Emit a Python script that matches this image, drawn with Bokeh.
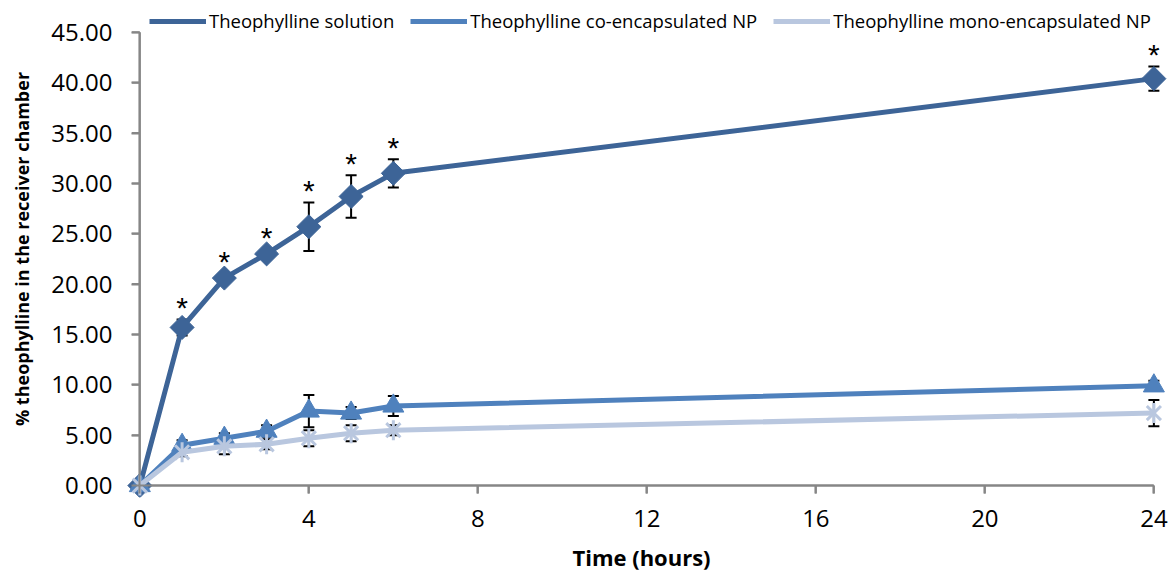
import math
from bokeh.plotting import figure
from bokeh.models import (ColumnDataSource, Whisker, TeeHead, Legend, LegendItem,
                          NumeralTickFormatter, FixedTicker, Range1d, LinearAxis)
from bokeh.embed import file_html
from bokeh.resources import INLINE

time_h = [0, 1, 2, 3, 4, 5, 6, 24]
solution = [0.0, 15.7, 20.6, 23.0, 25.7, 28.7, 31.0, 40.4]
solution_err = [0.0, 0.8, 0.5, 0.4, 2.4, 2.1, 1.4, 1.2]
co_np = [0.0, 4.0, 4.7, 5.4, 7.4, 7.2, 7.9, 9.9]
co_err = [0.0, 0.5, 0.5, 0.6, 1.6, 0.6, 1.0, 0.5]
mono_np = [0.0, 3.3, 3.9, 4.1, 4.7, 5.2, 5.5, 7.2]
mono_err = [0.0, 0.4, 0.8, 0.5, 0.8, 0.8, 0.5, 1.3]
signif = [False, True, True, True, True, True, True, True]
x_ticks = [0, 4, 8, 12, 16, 20, 24]
y_ticks = [0, 5, 10, 15, 20, 25, 30, 35, 40, 45]

labels = ["Theophylline solution", "Theophylline co-encapsulated NP",
          "Theophylline mono-encapsulated NP"]
colors = ["#3D6497", "#4F81BD", "#B9C7DF"]

FONT = "Open Sans"
AXIS_GRAY = "#868686"
X_MIN, X_MAX = -0.6, 24.346
Y_MIN, Y_MAX = -1.184, 48.158
PX_W, PX_H = 1054, 500  # frame size in pixels

p = figure(width=1168, height=574, output_backend="svg", toolbar_location=None,
           x_range=Range1d(X_MIN, X_MAX), y_range=Range1d(Y_MIN, Y_MAX),
           x_axis_location=None, y_axis_location=None,
           min_border_left=114, min_border_right=0, min_border_top=0,
           min_border_bottom=74)
p.outline_line_color = None
for g in p.xgrid + p.ygrid:
    g.visible = False

# label-only axes in the side panels
def label_axis(ticks, standoff):
    ax = LinearAxis(ticker=FixedTicker(ticks=ticks))
    ax.axis_line_color = None
    ax.major_tick_line_color = None
    ax.minor_tick_line_color = None
    ax.major_tick_out = 0
    ax.major_tick_in = 0
    ax.major_label_standoff = standoff
    ax.major_label_text_font = FONT
    ax.major_label_text_font_size = "24px"
    ax.major_label_text_color = "#000000"
    ax.axis_label_text_font = FONT
    ax.axis_label_text_font_style = "bold"
    ax.axis_label_text_color = "#000000"
    return ax

xlab = label_axis(x_ticks, 12)
xlab.axis_label = "Time (hours)"
xlab.axis_label_text_font_size = "22px"
xlab.axis_label_standoff = 12
p.add_layout(xlab, "below")

ylab = label_axis(y_ticks, 2)
ylab.formatter = NumeralTickFormatter(format="0.00")
ylab.axis_label = "% theophylline in the receiver chamber"
ylab.axis_label_text_font_size = "18px"
ylab.axis_label_standoff = 14
p.add_layout(ylab, "left")

# axis lines with outward ticks, pinned at the data origin
def line_axis(ticks, bounds):
    ax = LinearAxis(ticker=FixedTicker(ticks=ticks), fixed_location=0, bounds=bounds)
    ax.axis_line_color = AXIS_GRAY
    ax.axis_line_width = 2
    ax.major_tick_line_color = AXIS_GRAY
    ax.major_tick_line_width = 2
    ax.major_tick_out = 0
    ax.major_tick_in = -8
    ax.minor_tick_line_color = None
    ax.major_label_text_font_size = "0px"
    ax.major_label_standoff = 0
    ax.major_label_overrides = {t: "" for t in ticks}
    return ax

p.add_layout(line_axis(x_ticks, (0, 24)), "below")
p.add_layout(line_axis(y_ticks, (0, 45)), "left")

# same axis lines and ticks as glyphs (8 px long ticks)
tick_dx = 8 * (X_MAX - X_MIN) / PX_W
tick_dy = 8 * (Y_MAX - Y_MIN) / PX_H
p.segment(x0=[x_ticks[0], 0], y0=[0, y_ticks[0]], x1=[x_ticks[-1], 0],
          y1=[0, y_ticks[-1]], line_color=AXIS_GRAY, line_width=2)
p.segment(x0=x_ticks, y0=[0] * len(x_ticks), x1=x_ticks,
          y1=[-tick_dy] * len(x_ticks), line_color=AXIS_GRAY, line_width=2)
p.segment(x0=[0] * len(y_ticks), y0=y_ticks, x1=[-tick_dx] * len(y_ticks),
          y1=y_ticks, line_color=AXIS_GRAY, line_width=2)

items = []
markers = ["diamond", "triangle", "star6"]
for vals, errs, label, color, marker in zip(
        [solution, co_np, mono_np], [solution_err, co_err, mono_err],
        labels, colors, markers):
    src = ColumnDataSource(dict(x=time_h, y=vals,
                                lo=[v - e for v, e in zip(vals, errs)],
                                hi=[v + e for v, e in zip(vals, errs)]))
    w = Whisker(source=src, base="x", lower="lo", upper="hi",
                line_color="black", line_width=2,
                upper_head=TeeHead(size=11, line_color="black", line_width=2),
                lower_head=TeeHead(size=11, line_color="black", line_width=2))
    p.add_layout(w)
    lr = p.line("x", "y", source=src, line_color=color, line_width=5)
    if marker == "diamond":
        p.scatter("x", "y", source=src, marker="square", angle=math.pi / 4,
                  size=17, fill_color=color, line_color=color)
    elif marker == "triangle":
        p.scatter("x", "y", source=src, marker="triangle", size=21,
                  fill_color=color, line_color=color)
    else:
        p.scatter("x", "y", source=src, marker="x", size=20,
                  line_color=color, line_width=3)
        p.scatter("x", "y", source=src, marker="dash", angle=math.pi / 2,
                  size=20, line_color=color, line_width=3)
    items.append(LegendItem(label=label, renderers=[lr]))

# significance asterisks
sx = [t for t, s in zip(time_h, signif) if s]
sy = [v + e for v, e, s in zip(solution, solution_err, signif) if s]
p.text(x=sx, y=sy, text=["*"] * len(sx), text_align="center",
       text_baseline="middle", y_offset=-12, text_font_size="30px",
       text_color="black")

legend = Legend(items=items, orientation="horizontal", location=(35, 464),
                label_text_font=FONT, label_text_font_size="18.5px",
                label_text_color="#000000", glyph_width=57, glyph_height=18,
                spacing=16, padding=4, margin=0, border_line_color=None,
                background_fill_alpha=0, label_standoff=3)
p.add_layout(legend, "center")

open("out.html", "w").write(file_html(p, INLINE))
